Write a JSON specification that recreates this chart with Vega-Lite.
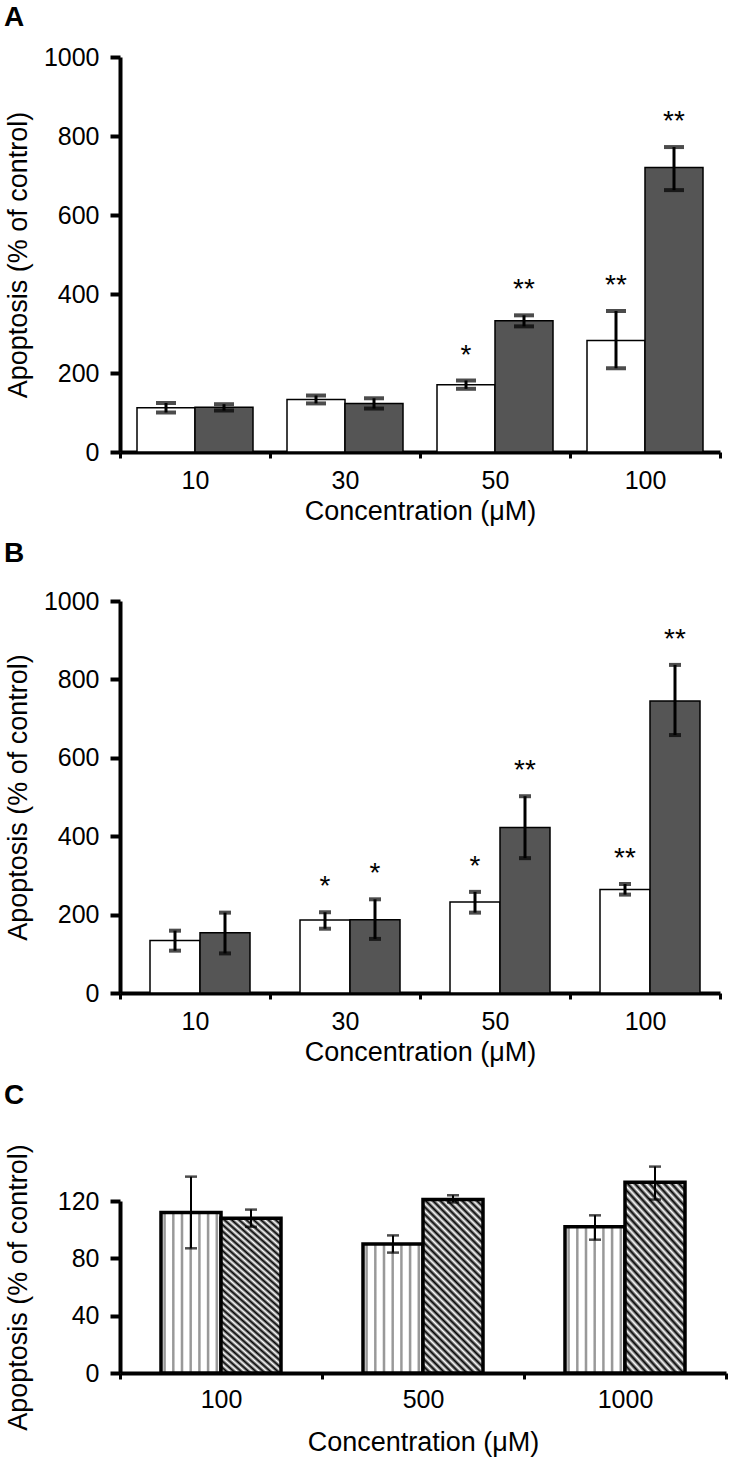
{
  "$schema": "https://vega.github.io/schema/vega-lite/v6.json",
  "padding": {"left": 3, "top": 4, "right": 2, "bottom": 2},
  "background": "white",
  "spacing": 16,
  "resolve": {"scale": {"xOffset": "independent", "x": "independent", "y": "independent", "fill": "independent"}},
  "config": {
    "view": {"stroke": null},
    "font": "Liberation Sans",
    "axis": {"grid": false, "domainColor": "black", "tickColor": "black", "labelColor": "black", "titleColor": "black", "labelFontSize": 25, "titleFontSize": 27, "titleFontWeight": "normal", "labelFont": "Liberation Sans", "titleFont": "Liberation Sans"},
    "axisX": {"labelAngle": 0, "tickBand": "extent", "domainWidth": 4, "tickWidth": 3, "tickSize": 6, "labelPadding": 10, "titlePadding": 5},
    "axisY": {"domainWidth": 4, "tickWidth": 4, "tickSize": 10, "labelPadding": 11, "titleX": -88, "format": "d"},
    "title": {"font": "Liberation Sans", "fontSize": 28, "fontWeight": "bold", "anchor": "start", "frame": "bounds", "color": "black"}
  },
  "datasets": {
    "A": [
      {"conc": "10", "s": "a", "v": 112, "lo": 100, "hi": 124, "sig": ""},
      {"conc": "10", "s": "b", "v": 113, "lo": 105, "hi": 121, "sig": ""},
      {"conc": "30", "s": "a", "v": 133, "lo": 123, "hi": 143, "sig": ""},
      {"conc": "30", "s": "b", "v": 123, "lo": 110, "hi": 136, "sig": ""},
      {"conc": "50", "s": "a", "v": 170, "lo": 160, "hi": 181, "sig": "*"},
      {"conc": "50", "s": "b", "v": 332, "lo": 318, "hi": 346, "sig": "**"},
      {"conc": "100", "s": "a", "v": 282, "lo": 212, "hi": 357, "sig": "**"},
      {"conc": "100", "s": "b", "v": 720, "lo": 663, "hi": 772, "sig": "**"}
    ],
    "B": [
      {"conc": "10", "s": "a", "v": 134, "lo": 108, "hi": 159, "sig": ""},
      {"conc": "10", "s": "b", "v": 154, "lo": 101, "hi": 205, "sig": ""},
      {"conc": "30", "s": "a", "v": 186, "lo": 164, "hi": 206, "sig": "*"},
      {"conc": "30", "s": "b", "v": 187, "lo": 138, "hi": 239, "sig": "*"},
      {"conc": "50", "s": "a", "v": 232, "lo": 205, "hi": 258, "sig": "*"},
      {"conc": "50", "s": "b", "v": 422, "lo": 344, "hi": 502, "sig": "**"},
      {"conc": "100", "s": "a", "v": 264, "lo": 251, "hi": 278, "sig": "**"},
      {"conc": "100", "s": "b", "v": 745, "lo": 658, "hi": 837, "sig": "**"}
    ],
    "C": [
      {"conc": "100", "s": "a", "v": 112, "lo": 87, "hi": 137},
      {"conc": "100", "s": "b", "v": 108, "lo": 102, "hi": 114},
      {"conc": "500", "s": "a", "v": 90, "lo": 84, "hi": 96},
      {"conc": "500", "s": "b", "v": 121, "lo": 119, "hi": 124},
      {"conc": "1000", "s": "a", "v": 102, "lo": 93, "hi": 110},
      {"conc": "1000", "s": "b", "v": 133, "lo": 121, "hi": 144}
    ]
  },
  "vconcat": [
    {
      "width": 600, "height": 395,
      "title": {"text": "A", "offset": 13},
      "data": {"name": "A"},
      "encoding": {
        "x": {"field": "conc", "type": "nominal", "scale": {"domain": ["10", "30", "50", "100"], "paddingInner": 0, "paddingOuter": 0}, "axis": {"title": "Concentration (μM)"}},
        "xOffset": {"field": "s", "type": "nominal", "scale": {"domain": ["a", "b"], "range": [17, 133], "paddingInner": 0, "paddingOuter": 0}}
      },
      "layer": [
        {"mark": {"type": "bar", "stroke": "black", "strokeWidth": 1.5},
         "encoding": {
           "y": {"field": "v", "type": "quantitative", "title": "Apoptosis (% of control)", "scale": {"domain": [0, 1000], "nice": false}, "axis": {"values": [0, 200, 400, 600, 800, 1000]}},
           "fill": {"field": "s", "type": "nominal", "scale": {"domain": ["a", "b"], "range": ["#ffffff", "#555555"]}, "legend": null}}},
        {"mark": {"type": "rule", "strokeWidth": 3, "color": "black"},
         "encoding": {"y": {"field": "lo", "type": "quantitative", "title": "Apoptosis (% of control)"}, "y2": {"field": "hi"}}},
        {"mark": {"type": "tick", "thickness": 4, "color": "black", "size": 20},
         "encoding": {"y": {"field": "lo", "type": "quantitative", "title": "Apoptosis (% of control)"}}},
        {"mark": {"type": "tick", "thickness": 4, "color": "black", "size": 20},
         "encoding": {"y": {"field": "hi", "type": "quantitative", "title": "Apoptosis (% of control)"}}},
        {"transform": [{"filter": "datum.sig !== ''"}],
         "mark": {"type": "text", "fontSize": 28, "baseline": "alphabetic", "dy": -17, "color": "black", "font": "Liberation Sans"},
         "encoding": {"y": {"field": "hi", "type": "quantitative", "title": "Apoptosis (% of control)"}, "text": {"field": "sig"}}}
      ]
    },
    {
      "width": 600, "height": 392,
      "title": {"text": "B", "offset": 21},
      "data": {"name": "B"},
      "encoding": {
        "x": {"field": "conc", "type": "nominal", "scale": {"domain": ["10", "30", "50", "100"], "paddingInner": 0, "paddingOuter": 0}, "axis": {"title": "Concentration (μM)"}},
        "xOffset": {"field": "s", "type": "nominal", "scale": {"domain": ["a", "b"], "range": [30, 130], "paddingInner": 0, "paddingOuter": 0}}
      },
      "layer": [
        {"mark": {"type": "bar", "stroke": "black", "strokeWidth": 1.5},
         "encoding": {
           "y": {"field": "v", "type": "quantitative", "title": "Apoptosis (% of control)", "scale": {"domain": [0, 1000], "nice": false}, "axis": {"values": [0, 200, 400, 600, 800, 1000]}},
           "fill": {"field": "s", "type": "nominal", "scale": {"domain": ["a", "b"], "range": ["#ffffff", "#555555"]}, "legend": null}}},
        {"mark": {"type": "rule", "strokeWidth": 3, "color": "black"},
         "encoding": {"y": {"field": "lo", "type": "quantitative", "title": "Apoptosis (% of control)"}, "y2": {"field": "hi"}}},
        {"mark": {"type": "tick", "thickness": 4, "color": "black", "size": 12},
         "encoding": {"y": {"field": "lo", "type": "quantitative", "title": "Apoptosis (% of control)"}}},
        {"mark": {"type": "tick", "thickness": 4, "color": "black", "size": 12},
         "encoding": {"y": {"field": "hi", "type": "quantitative", "title": "Apoptosis (% of control)"}}},
        {"transform": [{"filter": "datum.sig !== ''"}],
         "mark": {"type": "text", "fontSize": 28, "baseline": "alphabetic", "dy": -17, "color": "black", "font": "Liberation Sans"},
         "encoding": {"y": {"field": "hi", "type": "quantitative", "title": "Apoptosis (% of control)"}, "text": {"field": "sig"}}}
      ]
    },
    {
      "width": 606, "height": 172,
      "title": {"text": "C", "offset": 34},
      "data": {"name": "C"},
      "encoding": {
        "x": {"field": "conc", "type": "nominal", "scale": {"domain": ["100", "500", "1000"], "paddingInner": 0, "paddingOuter": 0}, "axis": {"title": "Concentration (μM)", "labelPadding": 8, "titlePadding": 17}},
        "xOffset": {"field": "s", "type": "nominal", "scale": {"domain": ["a", "b"], "range": [41, 161], "paddingInner": 0, "paddingOuter": 0}}
      },
      "layer": [
        {"transform": [{"filter": "datum.s === 'a'"}],
         "mark": {"type": "bar", "stroke": "black", "strokeWidth": 3.5,
           "fill": {"gradient": "linear", "x1": 0, "y1": 0, "x2": 1, "y2": 0, "stops": [
             {"offset": 0, "color": "#ffffff"},
             {"offset": 0.03, "color": "#ffffff"}, {"offset": 0.048, "color": "#999999"}, {"offset": 0.072, "color": "#999999"}, {"offset": 0.09, "color": "#ffffff"},
             {"offset": 0.175, "color": "#ffffff"}, {"offset": 0.193, "color": "#999999"}, {"offset": 0.217, "color": "#999999"}, {"offset": 0.235, "color": "#ffffff"},
             {"offset": 0.32, "color": "#ffffff"}, {"offset": 0.338, "color": "#999999"}, {"offset": 0.362, "color": "#999999"}, {"offset": 0.38, "color": "#ffffff"},
             {"offset": 0.465, "color": "#ffffff"}, {"offset": 0.483, "color": "#999999"}, {"offset": 0.507, "color": "#999999"}, {"offset": 0.525, "color": "#ffffff"},
             {"offset": 0.61, "color": "#ffffff"}, {"offset": 0.628, "color": "#999999"}, {"offset": 0.652, "color": "#999999"}, {"offset": 0.67, "color": "#ffffff"},
             {"offset": 0.755, "color": "#ffffff"}, {"offset": 0.773, "color": "#999999"}, {"offset": 0.797, "color": "#999999"}, {"offset": 0.815, "color": "#ffffff"},
             {"offset": 0.9, "color": "#ffffff"}, {"offset": 0.918, "color": "#999999"}, {"offset": 0.942, "color": "#999999"}, {"offset": 0.96, "color": "#ffffff"},
             {"offset": 1, "color": "#ffffff"}]}},
         "encoding": {
           "y": {"field": "v", "type": "quantitative", "title": "Apoptosis (% of control)", "scale": {"domain": [0, 120], "nice": false}, "axis": {"values": [0, 20, 40, 60, 80, 100, 120], "labelExpr": "datum.value % 40 === 0 ? datum.label : ''"}}}},
        {"transform": [{"filter": "datum.s === 'b'"}],
         "mark": {"type": "bar", "stroke": "black", "strokeWidth": 3.5,
           "fill": {"gradient": "linear", "x1": 0, "y1": 1, "x2": 0.414, "y2": -0.202, "stops": [
             {"offset": 0, "color": "#000000"}, {"offset": 0.015625, "color": "#ffffff"}, {"offset": 0.03125, "color": "#000000"}, {"offset": 0.046875, "color": "#ffffff"},
             {"offset": 0.0625, "color": "#000000"}, {"offset": 0.078125, "color": "#ffffff"}, {"offset": 0.09375, "color": "#000000"}, {"offset": 0.109375, "color": "#ffffff"},
             {"offset": 0.125, "color": "#000000"}, {"offset": 0.140625, "color": "#ffffff"}, {"offset": 0.15625, "color": "#000000"}, {"offset": 0.171875, "color": "#ffffff"},
             {"offset": 0.1875, "color": "#000000"}, {"offset": 0.203125, "color": "#ffffff"}, {"offset": 0.21875, "color": "#000000"}, {"offset": 0.234375, "color": "#ffffff"},
             {"offset": 0.25, "color": "#000000"}, {"offset": 0.265625, "color": "#ffffff"}, {"offset": 0.28125, "color": "#000000"}, {"offset": 0.296875, "color": "#ffffff"},
             {"offset": 0.3125, "color": "#000000"}, {"offset": 0.328125, "color": "#ffffff"}, {"offset": 0.34375, "color": "#000000"}, {"offset": 0.359375, "color": "#ffffff"},
             {"offset": 0.375, "color": "#000000"}, {"offset": 0.390625, "color": "#ffffff"}, {"offset": 0.40625, "color": "#000000"}, {"offset": 0.421875, "color": "#ffffff"},
             {"offset": 0.4375, "color": "#000000"}, {"offset": 0.453125, "color": "#ffffff"}, {"offset": 0.46875, "color": "#000000"}, {"offset": 0.484375, "color": "#ffffff"},
             {"offset": 0.5, "color": "#000000"}, {"offset": 0.515625, "color": "#ffffff"}, {"offset": 0.53125, "color": "#000000"}, {"offset": 0.546875, "color": "#ffffff"},
             {"offset": 0.5625, "color": "#000000"}, {"offset": 0.578125, "color": "#ffffff"}, {"offset": 0.59375, "color": "#000000"}, {"offset": 0.609375, "color": "#ffffff"},
             {"offset": 0.625, "color": "#000000"}, {"offset": 0.640625, "color": "#ffffff"}, {"offset": 0.65625, "color": "#000000"}, {"offset": 0.671875, "color": "#ffffff"},
             {"offset": 0.6875, "color": "#000000"}, {"offset": 0.703125, "color": "#ffffff"}, {"offset": 0.71875, "color": "#000000"}, {"offset": 0.734375, "color": "#ffffff"},
             {"offset": 0.75, "color": "#000000"}, {"offset": 0.765625, "color": "#ffffff"}, {"offset": 0.78125, "color": "#000000"}, {"offset": 0.796875, "color": "#ffffff"},
             {"offset": 0.8125, "color": "#000000"}, {"offset": 0.828125, "color": "#ffffff"}, {"offset": 0.84375, "color": "#000000"}, {"offset": 0.859375, "color": "#ffffff"},
             {"offset": 0.875, "color": "#000000"}, {"offset": 0.890625, "color": "#ffffff"}, {"offset": 0.90625, "color": "#000000"}, {"offset": 0.921875, "color": "#ffffff"},
             {"offset": 0.9375, "color": "#000000"}, {"offset": 0.953125, "color": "#ffffff"}, {"offset": 0.96875, "color": "#000000"}, {"offset": 0.984375, "color": "#ffffff"},
             {"offset": 1, "color": "#000000"}]}},
         "encoding": {"y": {"field": "v", "type": "quantitative", "title": "Apoptosis (% of control)"}}},
        {"mark": {"type": "rule", "strokeWidth": 2, "color": "black"},
         "encoding": {"y": {"field": "lo", "type": "quantitative", "title": "Apoptosis (% of control)"}, "y2": {"field": "hi"}}},
        {"mark": {"type": "tick", "thickness": 2.5, "color": "black", "size": 12},
         "encoding": {"y": {"field": "lo", "type": "quantitative", "title": "Apoptosis (% of control)"}}},
        {"mark": {"type": "tick", "thickness": 2.5, "color": "black", "size": 12},
         "encoding": {"y": {"field": "hi", "type": "quantitative", "title": "Apoptosis (% of control)"}}}
      ]
    }
  ]
}
